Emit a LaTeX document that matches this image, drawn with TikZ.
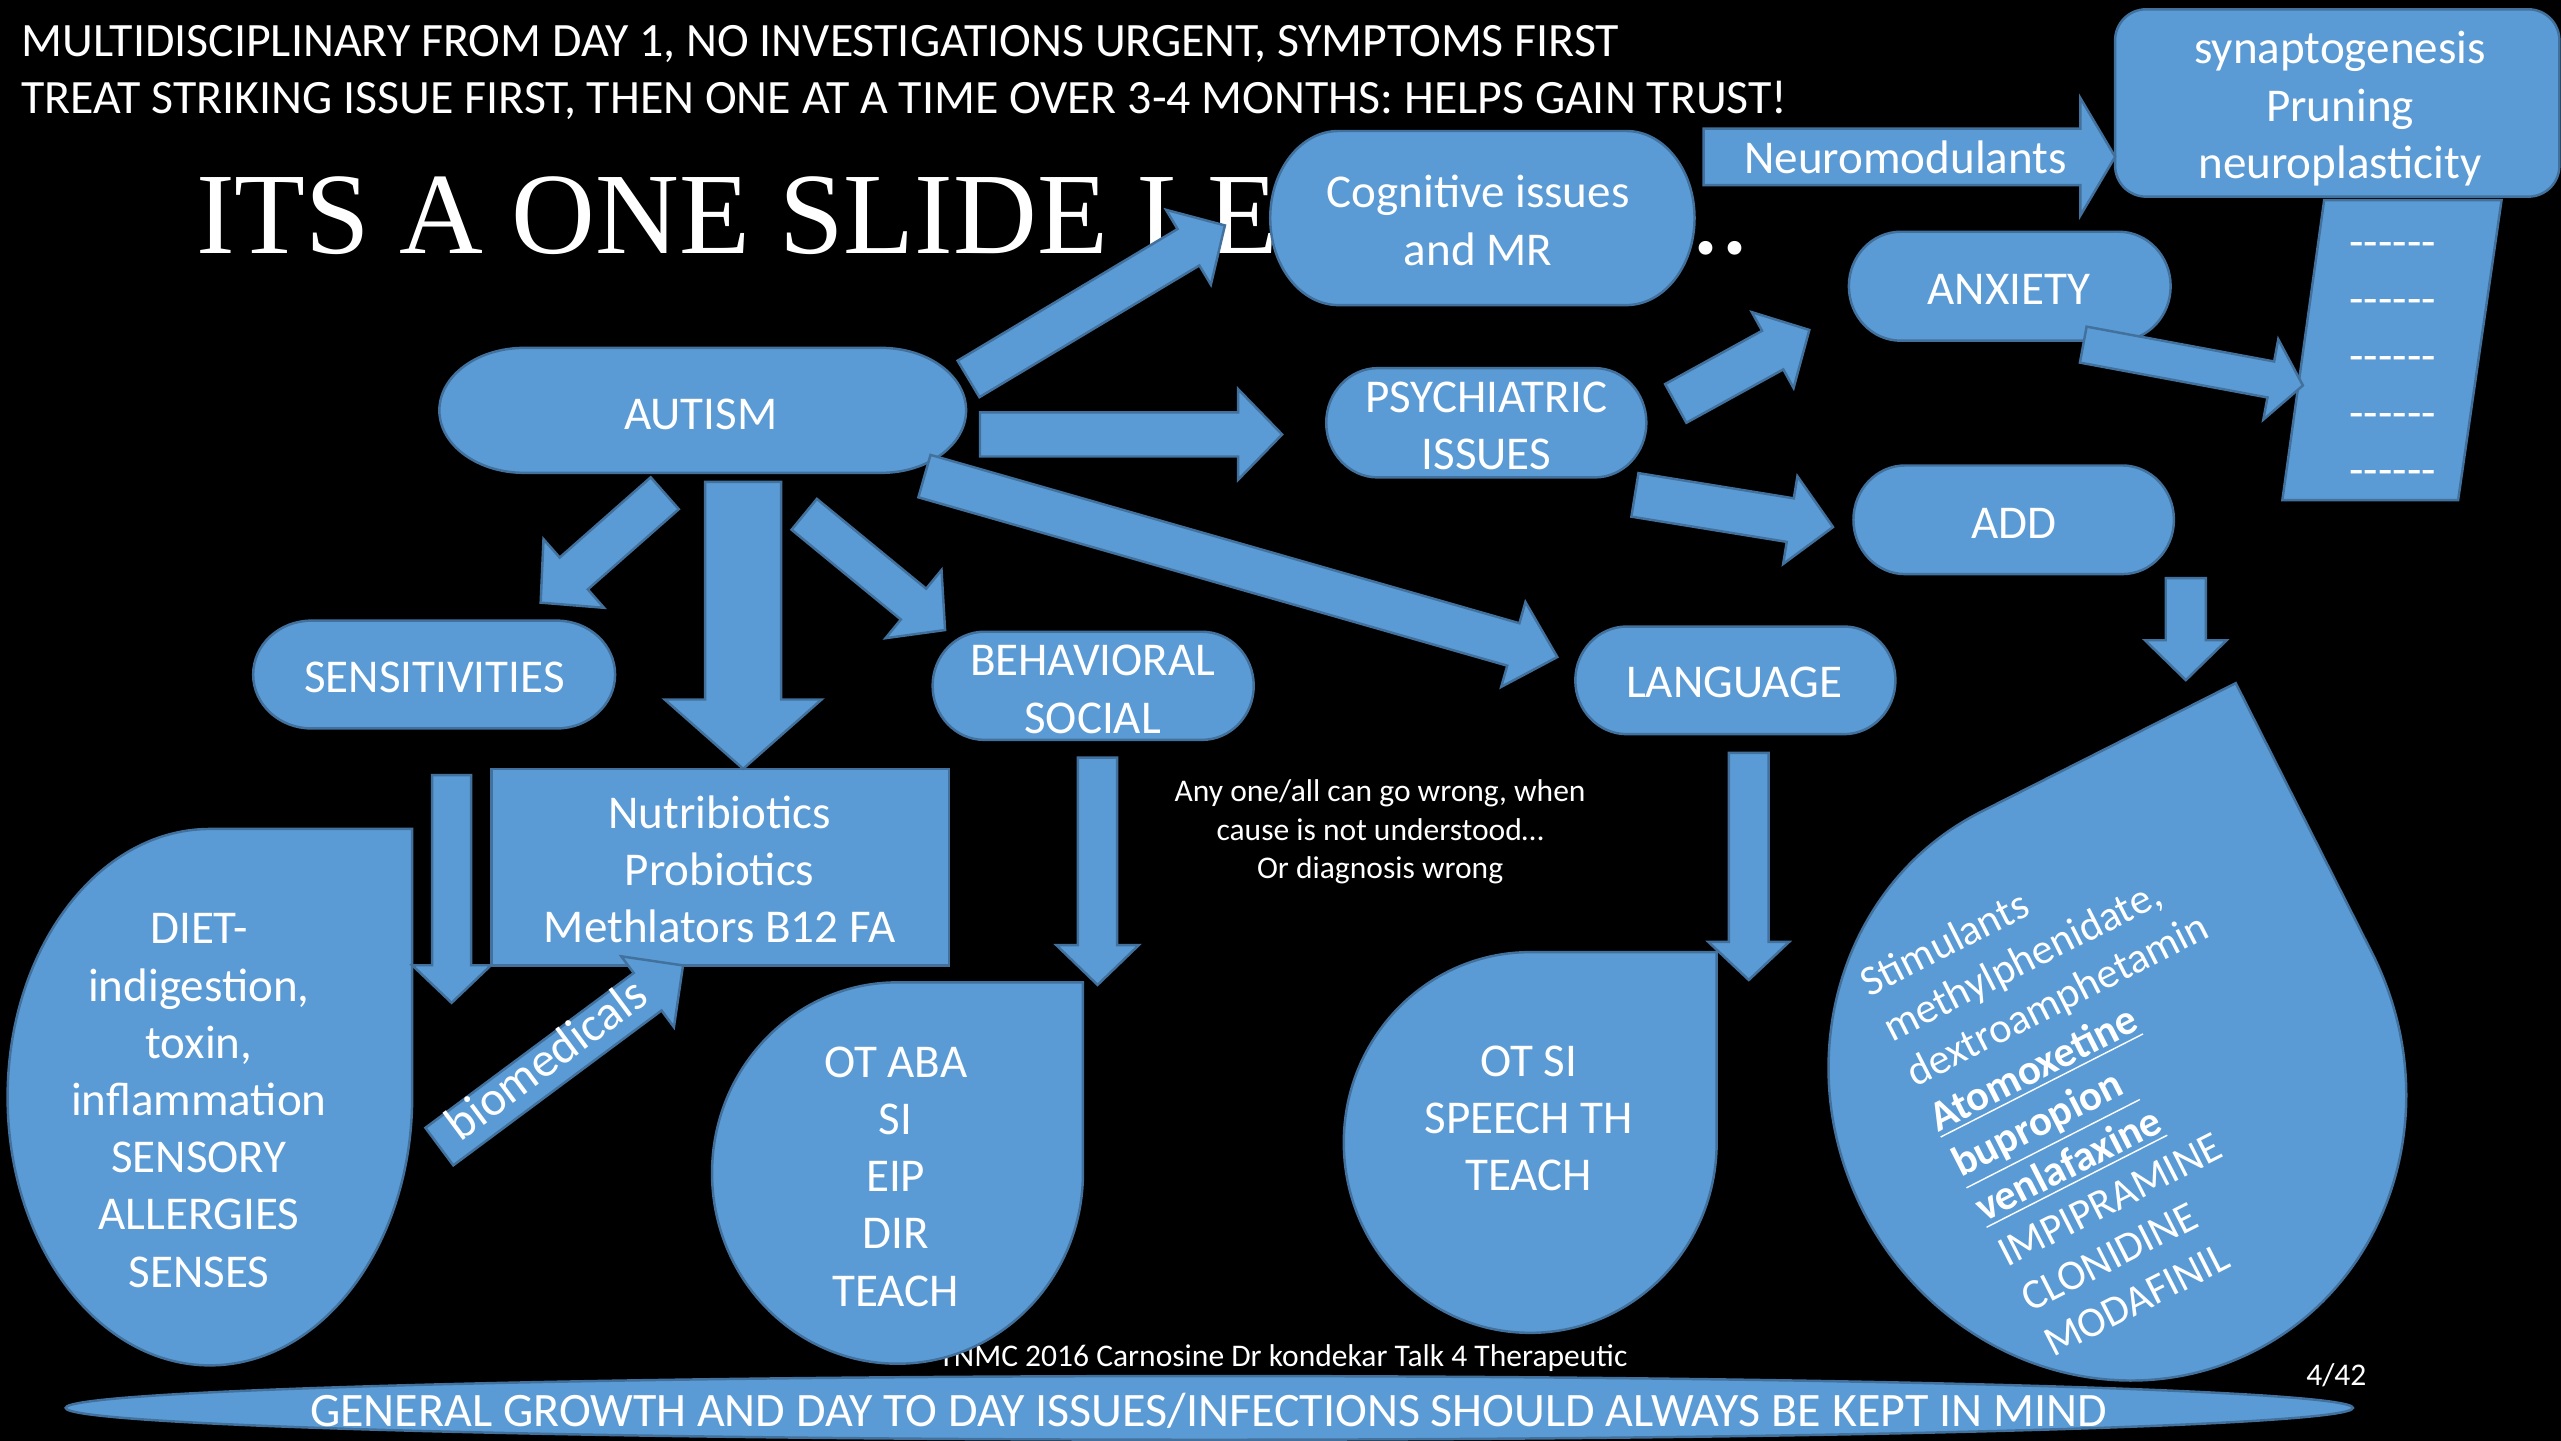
\documentclass[tikz,border=0pt]{standalone}
\usepackage{fontspec}
\setmainfont{Carlito}
\newfontfamily\timesfont{Liberation Serif}
\definecolor{boxfill}{HTML}{5B9BD5}
\definecolor{boxline}{HTML}{41719C}
\def\Upt{0.464717pt}
\tikzset{
  shp/.style={fill=boxfill, draw=boxline, line width=0.7pt},
  txt/.style={text=white, inner sep=0pt, align=center, font=\fontsize{13.38}{16.27}\selectfont},
  small/.style={text=white, inner sep=0pt, align=center, font=\fontsize{8.97}{10.87}\selectfont},
  toptxt/.style={text=white, inner sep=0pt, anchor=base west, font=\fontsize{13.62}{16}\selectfont},
}
% pill (flowchart terminator) from x1,y1 to x2,y2
\newcommand{\pillshape}[4]{%
  \pgfmathsetmacro\prx{0.1609*(#3-#1)}%
  \pgfmathsetmacro\pry{(#4-#2)/2}%
  \path[shp] ({#1+\prx},#2) -- ({#3-\prx},#2)
    arc[start angle=-90,end angle=90,x radius=\prx,y radius=\pry]
    -- ({#1+\prx},#4)
    arc[start angle=90,end angle=270,x radius=\prx,y radius=\pry] -- cycle;}
% teardrop: centre, half width, half height, rotation
\newcommand{\teardrop}[5]{%
  \begin{scope}[shift={(#1,#2)}, rotate=#5, x=\Upt, y=\Upt]
    \path[shp] (-#3,0) arc[start angle=180,end angle=90,x radius=#3,y radius=#4]
      -- (#3,#4) -- (#3,0) arc[start angle=0,end angle=-180,x radius=#3,y radius=#4] -- cycle;
  \end{scope}}
% block arrow: tail, tip, shaft half width, head half width, head length
\newcommand{\barrow}[5]{%
  \path (#1); \pgfgetlastxy{\bax}{\bay}%
  \path (#2); \pgfgetlastxy{\bbx}{\bby}%
  \pgfmathsetmacro\baang{atan2((\bby)-(\bay),(\bbx)-(\bax))}%
  \pgfmathsetmacro\balen{veclen((\bbx)-(\bax),(\bby)-(\bay))}%
  \begin{scope}[shift={(\bax,\bay)}, rotate=\baang]
    \path[shp] (0pt,{#3*\Upt}) -- ({\balen*1pt-#5*\Upt},{#3*\Upt})
      -- ({\balen*1pt-#5*\Upt},{#4*\Upt}) -- ({\balen*1pt},0pt)
      -- ({\balen*1pt-#5*\Upt},{-#4*\Upt}) -- ({\balen*1pt-#5*\Upt},{-#3*\Upt})
      -- (0pt,{-#3*\Upt}) -- cycle;
  \end{scope}}
\newcommand{\dashline}{-{}-{}-{}-{}-{}-}

\begin{document}
\begin{tikzpicture}[x=0.0163329cm, y=-0.0163329cm]
\fill[black] (0,0) rectangle (1568,882);
\useasboundingbox (0,0) rectangle (1568,882);
\clip (0,0) rectangle (1568,882);

% header texts
\node[toptxt] (top1) at (12.7,34.7) {MULTIDISCIPLINARY FROM DAY 1, NO INVESTIGATIONS URGENT, SYMPTOMS FIRST};
\node[toptxt] (top2) at (12.7,69.4) {TREAT STRIKING ISSUE FIRST, THEN ONE AT A TIME OVER 3-4 MONTHS: HELPS GAIN TRUST!};
\node[text=white, inner sep=0pt, anchor=base west, font=\timesfont\fontsize{33}{40}\selectfont] (title) at (119.6,155.2) {ITS A ONE SLIDE LE};
\node[text=white, inner sep=0pt, anchor=base west, font=\timesfont\fontsize{33}{40}\selectfont] (dots) at (1035,155.2) {..};

% footer
\node[small, anchor=base] (foot) at (785.5,836.5) {TNMC 2016 Carnosine Dr kondekar Talk 4 Therapeutic};
\node[small, anchor=base west] (page) at (1411.6,848) {4/42};

% bottom ellipse
\path[shp] (740.4,862) ellipse [x radius=700.2, y radius=19.5];
\node[txt, anchor=base, font=\fontsize{13.65}{16.27}\selectfont] (general) at (740,873.6) {GENERAL GROWTH AND DAY TO DAY ISSUES/INFECTIONS SHOULD ALWAYS BE KEPT IN MIND};

% teardrops
\teardrop{128.5}{671.75}{123.8}{164.15}{0}
\teardrop{549.5}{718.2}{113.5}{116.7}{0}
\teardrop{936.9}{699.5}{114.1}{116.5}{0}
\teardrop{1296.4}{662.2}{174.6}{185}{26.8}

% pills
\pillshape{777.7}{80.2}{1037.5}{186.8}
\pillshape{1132}{141.9}{1329}{208.6}
\pillshape{269}{213}{591.5}{289.5}
\pillshape{812}{225.4}{1008}{292.3}
\pillshape{1134.8}{285}{1331}{351.5}
\pillshape{964.5}{383.6}{1160.5}{449.5}
\pillshape{155}{380}{376.6}{446}
\pillshape{571}{386.8}{767.6}{453}

% boxes
\path[shp, rounded corners=8.8pt] (1295,5.7) rectangle (1567,120.4);
\path[shp] (301,470.7) rectangle (581,591);
\path[shp] (1423,122.5) -- (1531.6,122.5) -- (1505,306.2) -- (1397.4,306.2) -- cycle;

% arrow end points
\coordinate (cogT) at (593,232);     \coordinate (cogH) at (750,138);
\coordinate (psyT) at (600,266);     \coordinate (psyH) at (785,266);
\coordinate (lanT) at (566,291.5);   \coordinate (lanH) at (953.5,402.3);
\coordinate (senT) at (407,302);     \coordinate (senH) at (331,369);
\coordinate (behT) at (492.4,314.9); \coordinate (behH) at (578.7,385.8);
\coordinate (nutT) at (455,295);     \coordinate (nutH) at (455,470.7);
\coordinate (dieT) at (276.5,474.6); \coordinate (dieH) at (276.5,614);
\coordinate (otaT) at (672,463.9);   \coordinate (otaH) at (672,603);
\coordinate (otsT) at (1070.7,461);  \coordinate (otsH) at (1070.7,600);
\coordinate (addT) at (1338.3,354);  \coordinate (addH) at (1338.3,416.4);
\coordinate (anxT) at (1026,247);    \coordinate (anxH) at (1107.8,202);
\coordinate (adT)  at (1001,303);    \coordinate (adH)  at (1122.3,322.7);
\coordinate (dshT) at (1275.5,211);  \coordinate (dshH) at (1410,236);
\coordinate (neuT) at (1043,96);     \coordinate (neuH) at (1295,96);
\coordinate (bioT) at (269,702);     \coordinate (bioH) at (418.3,591);

\barrow{cogT}{cogH}{13}{26.7}{26}
\barrow{psyT}{psyH}{13.5}{27.8}{27}
\barrow{lanT}{lanH}{13.5}{27}{28}
\barrow{senT}{senH}{13}{28}{27}
\barrow{behT}{behH}{12.2}{27}{25}
\barrow{nutT}{nutH}{23.3}{48}{42.4}
\barrow{dieT}{dieH}{11.9}{24.1}{23}
\barrow{otaT}{otaH}{12}{25.2}{24.3}
\barrow{otsT}{otsH}{12.2}{24.7}{23.3}
\barrow{addT}{addH}{12.3}{25}{24.4}
\barrow{anxT}{anxH}{13.5}{26.5}{25.6}
\barrow{adT}{adH}{13.5}{27.2}{26.5}
\barrow{dshT}{dshH}{11.2}{25}{20}
\barrow{neuT}{neuH}{17.3}{36}{21.3}
\barrow{bioT}{bioH}{14.3}{27}{27}

% texts (anchor base = baseline of the last line)
\node[txt, anchor=base] (cog) at (905,162.3) {Cognitive issues\\and MR};
\node[txt, anchor=base] (neuro) at (1166.7,106.1) {Neuromodulants};
\node[txt, anchor=base] (syn) at (1432.7,109.2) {synaptogenesis\\Pruning\\neuroplasticity};
\node[txt, anchor=base] (dash) at (1465,297.5) {\dashline\\\dashline\\\dashline\\\dashline\\\dashline};
\node[txt, anchor=base] (anx) at (1230,186.2) {ANXIETY};
\node[txt, anchor=base] (autism) at (429,263) {AUTISM};
\node[txt, anchor=base] (psy) at (910,287.6) {PSYCHIATRIC\\ISSUES};
\node[txt, anchor=base] (add) at (1233.2,329.7) {ADD};
\node[txt, anchor=base] (lang) at (1061.7,426.8) {LANGUAGE};
\node[txt, anchor=base] (sens) at (266,424.2) {SENSITIVITIES};
\node[txt, anchor=base] (beh) at (669,448.9) {BEHAVIORAL\\SOCIAL};
\node[txt, anchor=base] (nutri) at (440.6,577.3) {Nutribiotics\\Probiotics\\Methlators B12 FA};
\node[txt, anchor=base] (diet) at (121.8,788) {DIET-\\indigestion,\\toxin,\\inflammation\\SENSORY\\ALLERGIES\\SENSES};
\node[txt, anchor=base] (otaba) at (548.4,799.7) {OT ABA\\SI\\EIP\\DIR\\TEACH};
\node[txt, anchor=base] (otsi) at (936,729) {OT SI\\SPEECH TH\\TEACH};
\node[small, anchor=base] (anyone) at (845,537.7) {Any one/all can go wrong, when\\cause is not understood…\\Or diagnosis wrong};
\node[txt, font=\fontsize{13.9}{16.27}\selectfont, rotate=36.7] (bio) at (334,648) {biomedicals};
\node[text=white, inner sep=0pt, align=left, font=\fontsize{12.1}{14.4}\selectfont, rotate=27, anchor=base west] (drugs) at (1256.7,831.6)
  {Stimulants\\methylphenidate,\\dextroamphetamin\\\textbf{\underline{Atomoxetine}}\\\textbf{\underline{bupropion~}}\\\textbf{\underline{venlafaxine}}\\IMPIPRAMINE\\CLONIDINE\\MODAFINIL};
\end{tikzpicture}
\end{document}
